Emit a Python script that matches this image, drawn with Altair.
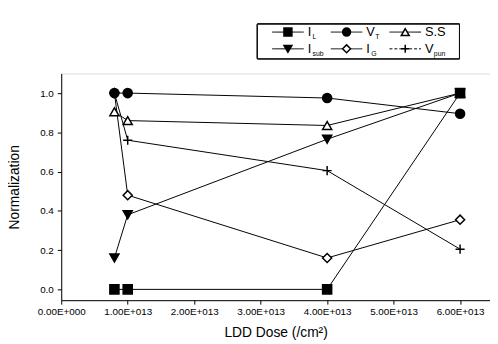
import altair as alt
import pandas as pd

# ---- data ----
dose = [0.8e13, 1.0e13, 4.0e13, 6.0e13]
series_names = ["I_L", "V_T", "S.S", "I_sub", "I_G", "V_pun"]
I_L = [0.0, 0.0, 0.0, 1.0]
V_T = [1.0, 1.0, 0.975, 0.895]
S_S = [0.905, 0.86, 0.835, 1.0]
I_sub = [0.16, 0.38, 0.765, 1.0]
I_G = [1.0, 0.48, 0.16, 0.355]
V_pun = [1.0, 0.76, 0.605, 0.205]

x_tick_values = [i * 0.5e13 for i in range(13)]
y_tick_values = [round(i * 0.1, 1) for i in range(12)]

legend_main = ["I", "V", "S.S", "I", "I", "V"]
legend_sub = ["L", "T", "", "sub", "G", "pun"]

shapes = ["square", "circle", "triangle-up", "triangle-down", "diamond", "M-1,0H1M0,-1V1"]
fills = ["black", "black", "white", "black", "white", "white"]

values = {"I_L": I_L, "V_T": V_T, "S.S": S_S, "I_sub": I_sub, "I_G": I_G, "V_pun": V_pun}
draw_order = ["S.S", "I_G", "V_pun", "I_L", "V_T", "I_sub"]
rows = []
for s in series_names:
    for d, v in zip(dose, values[s]):
        rows.append({"series": s, "dose": d, "value": v, "order": draw_order.index(s)})
df = pd.DataFrame(rows)

leg = pd.DataFrame({
    "series": series_names,
    "main": legend_main,
    "sub": legend_sub,
    "col": [0, 1, 2, 0, 1, 2],
    "row": [0, 0, 0, 1, 1, 1],
})

FONT = "Liberation Sans"
W, H = 435, 230

x_enc = alt.X(
    "dose:Q",
    scale=alt.Scale(domain=[0, 6.45e13], nice=False, zero=False),
    axis=alt.Axis(
        title="LDD Dose (/cm²)",
        values=x_tick_values,
        labelExpr="datum.value % 1e13 == 0 ? (datum.value == 0 ? '0.00E+000' : format(datum.value / 1e13, '.2f') + 'E+013') : ''",
        labelOverlap=False,
        labelFlush=False,
        tickSize={"condition": {"test": "datum.value % 1e13 == 0", "value": 4}, "value": 2},
        labelPadding=3,
        labelFontSize=10,
        titleFontSize=14,
        titleFontWeight="normal",
        titlePadding=9,
        grid=False,
        domainColor="black",
        tickColor="black",
        labelColor="black",
        titleColor="black",
    ),
)
y_enc = alt.Y(
    "value:Q",
    scale=alt.Scale(domain=[-0.055, 1.1], nice=False, zero=False),
    axis=alt.Axis(
        title="Normalization",
        values=y_tick_values,
        labelExpr="round(datum.value * 10) % 2 == 0 ? format(datum.value, '.1f') : ''",
        labelOverlap=False,
        labelFlush=False,
        tickSize={"condition": {"test": "round(datum.value * 10) % 2 == 0", "value": 4}, "value": 2},
        labelPadding=4,
        labelFontSize=10,
        titleFontSize=14,
        titleFontWeight="normal",
        titleX=-47,
        titleY=115,
        titleAngle=-90,
        titleAlign="center",
        titleBaseline="middle",
        grid=False,
        domainColor="black",
        tickColor="black",
        labelColor="black",
        titleColor="black",
    ),
)

lines = alt.Chart(df).mark_line(color="black", strokeWidth=1).encode(
    x=x_enc, y=y_enc, detail="series:N"
)

points = alt.Chart(df).mark_point(filled=True, opacity=1, strokeWidth=1.5, size=85).encode(
    x=alt.X("dose:Q"),
    y=alt.Y("value:Q"),
    shape=alt.Shape("series:N", scale=alt.Scale(domain=series_names, range=shapes), legend=None),
    fill=alt.Fill("series:N", scale=alt.Scale(domain=series_names, range=fills), legend=None),
    stroke=alt.value("black"),
    order=alt.Order("order:Q"),
)

main_layer = alt.layer(lines, points)

# ---- hand-drawn legend above the plot ----
lx = alt.X("col:Q", scale=alt.Scale(domain=[0, 2], range=[230, 349]), axis=None)
ly = alt.Y("row:Q", scale=alt.Scale(domain=[0, 1], range=[-42, -25]), axis=None)

leg_box = alt.Chart(leg).mark_rect(fill="white", stroke="black", strokeWidth=1).encode(
    x=alt.value(199), x2=alt.value(404), y=alt.value(-50), y2=alt.value(-15)
)
leg_lines = alt.Chart(leg).mark_rule(color="black", strokeWidth=1, xOffset=-16, x2Offset=16).encode(
    x=lx, x2="col:Q", y=ly,
    strokeDash=alt.StrokeDash("series:N", scale=alt.Scale(domain=series_names,
        range=[[1, 0], [1, 0], [1, 0], [1, 0], [1, 0], [3, 2]]), legend=None),
)
leg_pts = alt.Chart(leg).mark_point(filled=True, opacity=1, strokeWidth=1.5, size=65).encode(
    x=alt.X("col:Q"), y=alt.Y("row:Q"),
    shape=alt.Shape("series:N", scale=alt.Scale(domain=series_names, range=shapes), legend=None),
    fill=alt.Fill("series:N", scale=alt.Scale(domain=series_names, range=fills), legend=None),
    stroke=alt.value("black"),
)
leg_main = alt.Chart(leg).mark_text(align="left", baseline="middle", dx=20, fontSize=13, font=FONT, color="black").encode(
    x=alt.X("col:Q"), y=alt.Y("row:Q"), text="main:N"
)
leg_sub_i = alt.Chart(leg).transform_filter("datum.main == 'I'").mark_text(
    align="left", baseline="middle", dx=25, dy=5, fontSize=7, font=FONT, color="black"
).encode(x=alt.X("col:Q"), y=alt.Y("row:Q"), text="sub:N")
leg_sub_v = alt.Chart(leg).transform_filter("datum.main == 'V'").mark_text(
    align="left", baseline="middle", dx=29, dy=5, fontSize=7, font=FONT, color="black"
).encode(x=alt.X("col:Q"), y=alt.Y("row:Q"), text="sub:N")

legend_layer = alt.layer(leg_box, leg_lines, leg_pts, leg_main, leg_sub_i, leg_sub_v)

chart = alt.layer(main_layer, legend_layer).resolve_scale(
    x="independent", y="independent", shape="independent", fill="independent", strokeDash="independent"
).properties(
    width=W, height=H,
    autosize=alt.AutoSizeParams(type="none"),
    padding={"left": 54, "top": 64, "right": 0, "bottom": 40},
).configure_view(stroke=None).configure(font=FONT, background="white")

chart.save("out.html", embed_options={"renderer": "svg", "actions": False})
